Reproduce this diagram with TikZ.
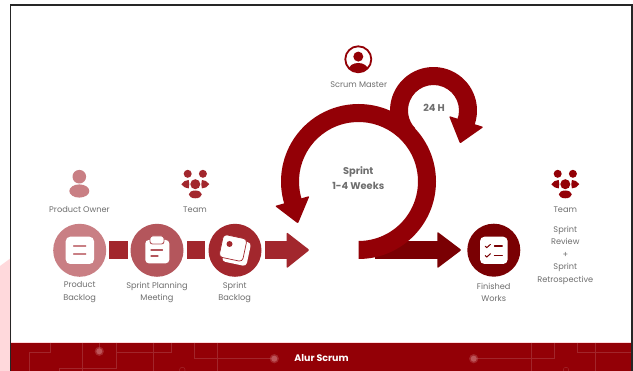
\documentclass[tikz,border=0pt]{standalone}
\usepackage{fontspec}
\setmainfont{Poppins}
\definecolor{brand}{HTML}{930006}
\definecolor{cA}{HTML}{C97F84}
\definecolor{cB}{HTML}{B4565C}
\definecolor{cC}{HTML}{A2272D}
\definecolor{cD}{HTML}{7A0003}
\definecolor{txt}{HTML}{6E6E6E}
\definecolor{pinkbg}{HTML}{FFD9DC}
\definecolor{trace}{HTML}{A2252A}
\definecolor{dotc}{HTML}{BD5559}
\tikzset{
  disc/.style={circle,minimum size=53pt,inner sep=0pt,fill=#1},
  lab/.style={text=txt,font=\fontsize{8.2}{12.4}\selectfont,align=center,inner sep=0pt},
  boldlab/.style={text=txt,font=\fontsize{9.8}{15}\selectfont\bfseries,align=center,inner sep=0pt},
  card/.style={fill=white,rounded corners=4.5pt},
  traceline/.style={draw=trace,line width=.5pt},
  iconline/.style={line width=1.1pt,line cap=round},
  head/.style={rounded corners=1pt}
}
\newcommand{\teamicon}[3]{%
  \begin{scope}[shift={(#1,#2)}]
    \fill[#3] (-7.6,-10.4) circle (4);
    \fill[#3] (7.6,-10.4) circle (4);
    \fill[#3] (0,0) circle (5);
    \fill[#3] (0,10.2) ellipse (6.5 and 3.9);
    \fill[#3] (-14,0) .. controls (-12,-2.8) and (-9.5,-4.2) .. (-6.6,-4.2) .. controls (-5.8,-1.5) and (-5.8,1.5) .. (-6.6,4.2) .. controls (-9.5,4.2) and (-12,2.8) .. (-14,0) -- cycle;
    \fill[#3] (14,0) .. controls (12,-2.8) and (9.5,-4.2) .. (6.6,-4.2) .. controls (5.8,-1.5) and (5.8,1.5) .. (6.6,4.2) .. controls (9.5,4.2) and (12,2.8) .. (14,0) -- cycle;
  \end{scope}}
\begin{document}
\begin{tikzpicture}[x=1pt,y=1pt,yscale=-1]
\useasboundingbox (0,0) rectangle (633,371);
\fill[white] (0,0) rectangle (633,371);
% pink shape outside the frame
\fill[pinkbg] (0,266) -- (11,258) -- (11,371) -- (0,371) -- cycle;
% band
\fill[brand] (11,342) rectangle (632,371);
\draw[draw=pinkbg,line width=.7pt] (11,342) -- (632,342);
% circuit traces
\draw[traceline] (50.7,343) -- (50.7,352) -- (29,352) -- (29,371);
\draw[traceline] (82.3,343) -- (82.3,371);
\draw[traceline] (99.3,343) -- (99.3,351);
\draw[traceline] (116,343) -- (116,368.3) -- (59,368.3) -- (59,371);
\draw[traceline] (116,352) -- (171,352) -- (171,343);
\draw[traceline] (153.7,343) -- (153.7,371);
\draw[traceline] (194.3,343) -- (194.3,358.7) -- (274,358.7);
\draw[traceline] (217.3,343) -- (217.3,371);
\draw[traceline] (473.7,358.7) -- (554.3,358.7) -- (554.3,343);
\draw[traceline] (531,343) -- (531,371);
\draw[traceline] (577.3,343) -- (577.3,352) -- (632,352);
\draw[traceline] (595,343) -- (595,371);
\draw[traceline] (182.3,370) circle (2.8);
\draw[traceline] (566,370) circle (2.8);
\foreach \dx/\dy in {99.3/351.3,274.3/358.7,473.7/358.7}{
  \fill[dotc,opacity=.45] (\dx,\dy) circle (4.6);
  \fill[dotc] (\dx,\dy) circle (3);
}
% frame
\draw[black!85,line width=1.4pt] (10.6,371) -- (10.6,5) -- (631.8,5) -- (631.8,371);
\node[text=white,font=\fontsize{9.5}{11}\selectfont\bfseries,inner sep=0pt] (title) at (321.5,358) {Alur Scrum};

% left chain bars and arrows
\fill[cC] (109.3,240.7) rectangle (127.7,259.3);
\fill[cC] (186.7,240.7) rectangle (205.3,259.3);
\fill[cC] (265,240.7) rectangle (288,259.3);
\fill[cC,head] (286.7,232.3) -- (309.5,250) -- (286.7,268.3) -- cycle;
% finished arrow (behind the ring)
\fill[cD] (375,240.7) rectangle (439,259.3);
\fill[cD,head] (437.3,231.7) -- (461.5,250) -- (437.3,268.3) -- cycle;

% big sprint ring
\fill[brand,shift={(358.5,181.5)}] (90:77.5pt) arc[start angle=90,end angle=-200,radius=77.5pt]
   -- (-200:59.5pt) arc[start angle=-200,end angle=90,radius=59.5pt] -- cycle;
\fill[brand,head] (275,206) -- (298,223.5) -- (309.5,196) -- cycle;
% small daily ring
\fill[brand,shift={(433.5,110.5)}] (136.6:43.5pt) arc[start angle=136.6,end angle=382,radius=43.5pt]
   -- (382:25.5pt) arc[start angle=382,end angle=136.6,radius=25.5pt] -- cycle;
\fill[brand,head] (449,116) -- (483.5,127) -- (460,143.5) -- cycle;

% discs
\node[disc=cA] (pb) at (79.7,250.3) {};
\node[disc=cB] (spm) at (157,250.3) {};
\node[disc=cC] (sb) at (235,250.3) {};
\node[disc=cD] (fw) at (493.8,250.2) {};

% product backlog icon
\fill[card] (65.7,236.7) rectangle (94,264);
\draw[cA,iconline] (73.6,246) -- (85.8,246);
\draw[cA,iconline] (73.6,254) -- (85.8,254);
% sprint planning icon
\fill[white,rounded corners=3.5pt] (145.3,240) rectangle (169.3,263.3);
\fill[white,draw=cB,line width=.9pt,rounded corners=2.5pt] (150,236) rectangle (164,244);
\draw[cB,iconline] (151,250) -- (162.5,250);
\draw[cB,iconline] (151,256) -- (158,256);
% sprint backlog icon
\fill[white,rounded corners=3.5pt,rotate around={12:(236.5,252)}] (224,240) rectangle (249,264);
\fill[white,draw=cC,line width=.7pt,rounded corners=3.5pt,rotate around={12:(233,248)}] (221,236.5) rectangle (245,259.5);
\fill[cC] (229.5,244) circle (3);
% finished works icon
\fill[card] (480,236.7) rectangle (507.7,264);
\draw[cD,line width=1pt,line cap=round] (485.2,246.2) -- (486.8,247.6) -- (490.4,244.4);
\draw[cD,line width=1pt,line cap=round] (485.2,255.6) -- (486.8,257) -- (490.4,253.8);
\draw[cD,iconline] (494.5,246) -- (502.3,246);
\draw[cD,iconline] (494.5,255.4) -- (502.3,255.4);

% people
\fill[cA] (79.3,176.7) circle (6.8);
\fill[cA] (79.3,191) ellipse (10 and 6.6);
\teamicon{195.3}{184.2}{cC}
\teamicon{565.3}{184.2}{brand}
% scrum master icon
\draw[brand,line width=1.8pt] (358.3,59.3) circle (13);
\begin{scope}
  \clip (358.3,59.3) circle (12.5);
  \fill[brand] (358.3,69.5) ellipse (9.5 and 6.5);
\end{scope}
\fill[brand] (358.3,56.6) circle (5);

% labels
\node[lab] (po) at (79.5,209.3) {Product Owner};
\node[lab] (t1) at (195,209.3) {Team};
\node[lab] (pbl) at (79.7,292.2) {Product\\Backlog};
\node[lab] (spml) at (157,292.2) {Sprint Planning\\Meeting};
\node[lab] (sbl) at (234.7,292.2) {Sprint\\Backlog};
\node[lab] (sm) at (358.7,85) {Scrum Master};
\node[lab] (fwl) at (493.7,292.2) {Finished\\Works};
\node[lab] (t2) at (565.3,209.3) {Team};
\node[lab] (rev) at (565.3,255.2) {Sprint\\Review\\+\\Sprint\\Retrospective};
\node[boldlab] (h24) at (434,108.3) {24 H};
\node[boldlab] (spr) at (358.3,178.2) {Sprint\\1-4 Weeks};
\end{tikzpicture}
\end{document}
